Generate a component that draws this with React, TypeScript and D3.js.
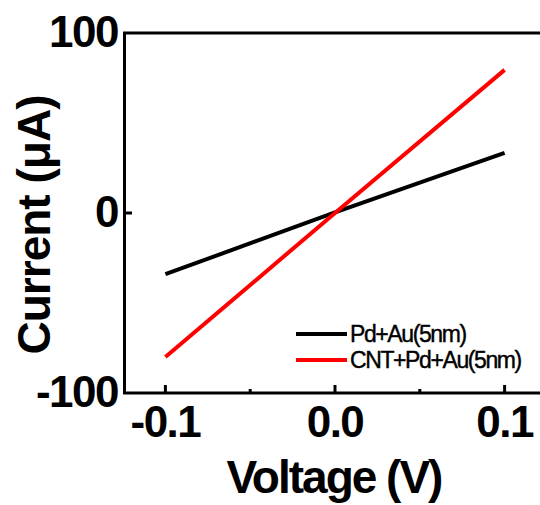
import React, { useEffect, useRef } from "react";
import * as d3 from "d3";

const voltage = [-0.1, 0, 0.1];
const pdAu = [-34, 0.3, 33.4];
const cntPdAu = [-80, 0, 79.5];
const seriesNames = ["Pd+Au(5nm)", "CNT+Pd+Au(5nm)"];
const seriesColors = ["#000000", "#ff0000"];
const xMajorTicks = [-0.1, 0, 0.1];
const xMinorTicks = [-0.05, 0.05];
const yTicks = [-100, 0, 100];
const yInnerTicks = [0];

const W = 540;
const H = 505;

const App = () => {
  const ref = useRef<SVGSVGElement>(null);

  useEffect(() => {
    const svg = d3.select(ref.current);
    svg.selectAll("*").remove();

    const x = d3.scaleLinear().domain([-0.125, 0.125]).range([123, 547]);
    const y = d3.scaleLinear().domain([-100, 100]).range([393, 33]);
    const font = "'Liberation Sans', Arial, sans-serif";

    // frame (right edge falls outside the picture)
    svg
      .append("rect")
      .attr("x", x(-0.125) + 1.5)
      .attr("y", y(100))
      .attr("width", x(0.125) - x(-0.125))
      .attr("height", y(-100) - y(100))
      .attr("fill", "none")
      .attr("stroke", "#000")
      .attr("stroke-width", 3);

    // inward ticks on bottom axis
    const g = svg.append("g").attr("stroke", "#000").attr("stroke-width", 3);
    xMajorTicks.forEach((t) => {
      g.append("line")
        .attr("x1", x(t)).attr("x2", x(t))
        .attr("y1", y(-100)).attr("y2", y(-100) - 8);
    });
    xMinorTicks.forEach((t) => {
      g.append("line")
        .attr("x1", x(t)).attr("x2", x(t))
        .attr("y1", y(-100)).attr("y2", y(-100) - 4);
    });
    yInnerTicks.forEach((t) => {
      g.append("line")
        .attr("x1", x(-0.125) + 1.5).attr("x2", x(-0.125) + 9)
        .attr("y1", y(t)).attr("y2", y(t));
    });

    // tick labels
    svg
      .selectAll(".xl")
      .data(xMajorTicks)
      .join("text")
      .attr("x", (d) => x(d))
      .attr("y", y(-100) + 44)
      .attr("text-anchor", "middle")
      .attr("font-family", font)
      .attr("font-weight", "bold")
      .attr("font-size", 44)
      .attr("letter-spacing", -1.5)
      .text((d) => d.toFixed(1));

    svg
      .selectAll(".yl")
      .data(yTicks)
      .join("text")
      .attr("x", 118)
      .attr("y", (d) => y(d) + 14)
      .attr("text-anchor", "end")
      .attr("font-family", font)
      .attr("font-weight", "bold")
      .attr("font-size", 44)
      .attr("letter-spacing", -1.5)
      .text((d) => String(d));

    // axis titles
    svg
      .append("text")
      .attr("x", 334)
      .attr("y", 493)
      .attr("text-anchor", "middle")
      .attr("font-family", font)
      .attr("font-weight", "bold")
      .attr("font-size", 46)
      .attr("letter-spacing", -2)
      .text("Voltage (V)");

    svg
      .append("text")
      .attr("transform", "translate(50,225) rotate(-90)")
      .attr("text-anchor", "middle")
      .attr("font-family", font)
      .attr("font-weight", "bold")
      .attr("font-size", 46)
      .attr("letter-spacing", -1)
      .text("Current (\u03bcA)");

    // data lines
    const line = d3
      .line<number>()
      .x((_, i) => x(voltage[i]))
      .y((d) => y(d));
    [pdAu, cntPdAu].forEach((s, i) => {
      svg
        .append("path")
        .attr("d", line(s))
        .attr("fill", "none")
        .attr("stroke", seriesColors[i])
        .attr("stroke-width", 4);
    });

    // legend
    const lg = svg.append("g");
    seriesNames.forEach((name, i) => {
      const ly = 334 + i * 26;
      lg.append("line")
        .attr("x1", 296).attr("x2", 347)
        .attr("y1", ly).attr("y2", ly)
        .attr("stroke", seriesColors[i])
        .attr("stroke-width", 4);
      lg.append("text")
        .attr("x", 350)
        .attr("y", ly + 8)
        .attr("font-family", font)
        .attr("font-size", 23)
        .attr("letter-spacing", -1.4)
        .attr("stroke", "#000")
        .attr("stroke-width", 0.4)
        .text(name);
    });
  }, []);

  return (
    <svg
      ref={ref}
      width={W}
      height={H}
      style={{ position: "absolute", left: 0, top: 0, background: "#fff" }}
    />
  );
};

export default App;
